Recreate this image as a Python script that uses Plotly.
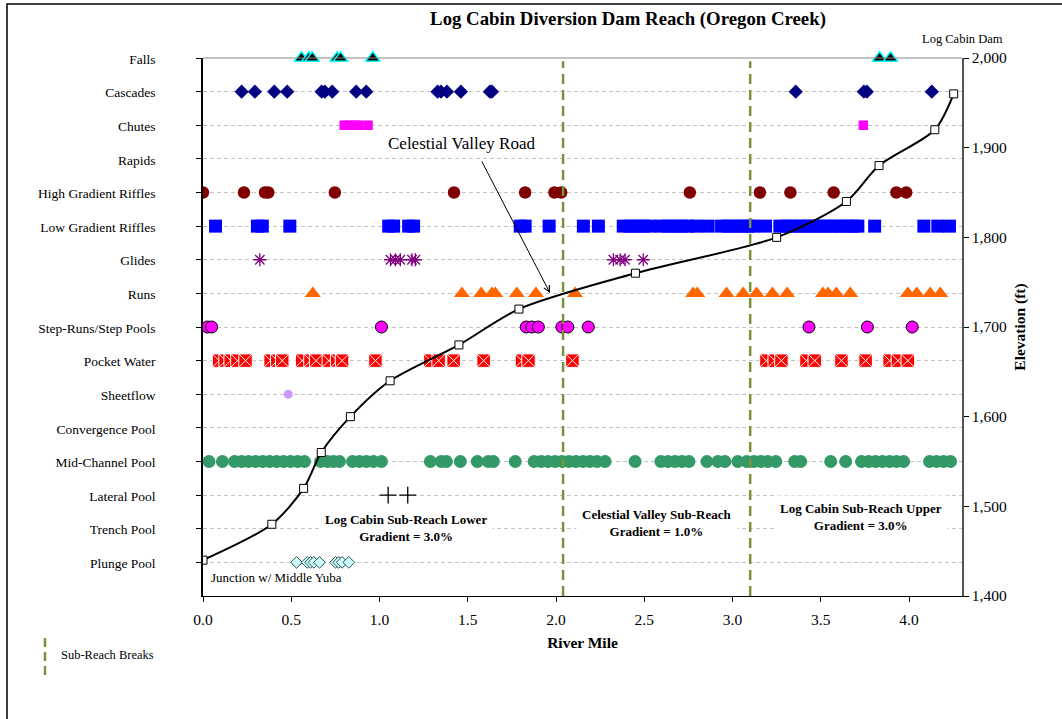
import plotly.graph_objects as go

FONT = "Liberation Serif, Times New Roman, serif"

# ---------------- data ----------------
CATEGORIES = ["Plunge Pool", "Trench Pool", "Lateral Pool", "Mid-Channel Pool",
              "Convergence Pool", "Sheetflow", "Pocket Water", "Step-Runs/Step Pools",
              "Runs", "Glides", "Low Gradient Riffles", "High Gradient Riffles",
              "Rapids", "Chutes", "Cascades", "Falls"]

falls = [0.558, 0.60, 0.619, 0.76, 0.779, 0.962, 3.833, 3.895]
cascades = [0.219, 0.294, 0.404, 0.477, 0.672, 0.69, 0.732, 0.868, 0.925, 1.329,
            1.348, 1.382, 1.461, 1.625, 1.637, 3.358, 3.744, 3.761, 4.129]
chutes = [0.80, 0.83, 0.86, 0.883, 0.935, 3.741]
rapids = []
high_riffles = [0.0, 0.232, 0.351, 0.37, 0.747, 1.422, 1.825, 1.991, 2.029, 2.758,
                3.155, 3.328, 3.573, 3.928, 3.984]
low_riffles = [0.071, 0.308, 0.336, 0.492, 1.052, 1.08, 1.165, 1.193, 1.797, 1.825,
               1.961, 2.155, 2.240, 2.381, 2.419, 2.457, 2.494, 2.532, 2.598, 2.636,
               2.674, 2.712, 2.749, 2.796, 2.862, 2.938, 2.975, 3.013, 3.051, 3.088,
               3.117, 3.187, 3.268, 3.305, 3.343, 3.381, 3.419, 3.456, 3.494, 3.532,
               3.569, 3.607, 3.645, 3.682, 3.710, 3.805, 4.084, 4.163, 4.229]
glides = [0.322, 1.062, 1.09, 1.118, 1.184, 1.203, 2.325, 2.363, 2.391, 2.494]
runs = [0.622, 1.467, 1.576, 1.637, 1.656, 1.778, 1.886, 2.108, 2.777, 2.80, 2.966,
        3.06, 3.136, 3.226, 3.309, 3.512, 3.541, 3.588, 3.667, 3.993, 4.044, 4.12, 4.177]
step_runs = [0.025, 0.049, 1.011, 1.831, 1.863, 1.90, 2.033, 2.067, 2.183, 3.433,
             3.764, 4.018]
pocket_water = [0.091, 0.128, 0.157, 0.195, 0.241, 0.383, 0.421, 0.449, 0.562, 0.609,
                0.641, 0.713, 0.760, 0.788, 0.977, 1.288, 1.335, 1.42, 1.59, 1.807,
                1.844, 2.093, 3.192, 3.239, 3.277, 3.419, 3.466, 3.617, 3.754, 3.89,
                3.937, 3.993]
sheetflow = [0.483]
convergence_pool = []
mid_channel_pool = [0.034, 0.110, 0.179, 0.219, 0.258, 0.298, 0.338, 0.377, 0.417,
                    0.456, 0.496, 0.536, 0.575, 0.666, 0.705, 0.739, 0.773, 0.847,
                    0.886, 0.926, 0.966, 1.011, 1.288, 1.350, 1.379, 1.458, 1.554,
                    1.616, 1.645, 1.769, 1.876, 1.916, 1.955, 1.995, 2.034, 2.074,
                    2.113, 2.153, 2.193, 2.232, 2.278, 2.448, 2.594, 2.634, 2.674,
                    2.713, 2.753, 2.855, 2.917, 2.957, 3.030, 3.081, 3.121, 3.160,
                    3.200, 3.245, 3.352, 3.386, 3.556, 3.641, 3.731, 3.771, 3.810,
                    3.850, 3.890, 3.929, 3.969, 4.116, 4.156, 4.196, 4.235]
lateral_pool = [1.049, 1.16]
trench_pool = []
plunge_pool = [0.53, 0.59, 0.609, 0.628, 0.66, 0.751, 0.769, 0.788, 0.826]

profile_mile = [0, 0.39, 0.57, 0.67, 0.835, 1.06, 1.45, 1.79, 2.45, 3.25, 3.645,
                3.83, 4.146, 4.253]
profile_elev = [1440, 1480, 1520, 1560, 1600, 1640, 1680, 1720, 1760, 1800, 1840,
                1880, 1920, 1960]

sub_reach_breaks = [2.04, 3.10]

x_ticks = [0.0, 0.5, 1.0, 1.5, 2.0, 2.5, 3.0, 3.5, 4.0]
elev_ticks = [1400, 1500, 1600, 1700, 1800, 1900, 2000]

# ---------------- figure ----------------
fig = go.Figure()

def row(name):
    return CATEGORIES.index(name) + 1

def add_row(xs, name, symbol, color, size, line_color=None, line_width=0, cliponaxis=True):
    fig.add_trace(go.Scatter(
        x=xs, y=[row(name)] * len(xs), mode="markers", name=name,
        cliponaxis=cliponaxis,
        marker=dict(symbol=symbol, color=color, size=size,
                    line=dict(color=line_color or color, width=line_width)),
        showlegend=False, hoverinfo="x+name"))

add_row(mid_channel_pool, "Mid-Channel Pool", "circle", "#339966", 13)
add_row(low_riffles, "Low Gradient Riffles", "square", "#0000FF", 13)
add_row(high_riffles, "High Gradient Riffles", "circle", "#800000", 12.5)
add_row(cascades, "Cascades", "diamond", "#000080", 11)
add_row(chutes, "Chutes", "square", "#FF00FF", 9.5)
add_row(rapids, "Rapids", "circle", "#000000", 10)
add_row(glides, "Glides", "asterisk-open", "#800080", 11, "#800080", 1.3)
add_row(runs, "Runs", "triangle-up", "#FF6600", 14)
add_row(step_runs, "Step-Runs/Step Pools", "circle", "#FF00FF", 12, "#000000", 1)
add_row(pocket_water, "Pocket Water", "square-x", "#FF0000", 13.5, "#FFFFFF", 1)
add_row(sheetflow, "Sheetflow", "circle", "#CC99FF", 9)
add_row(convergence_pool, "Convergence Pool", "circle", "#000000", 10)
add_row(lateral_pool, "Lateral Pool", "cross-thin-open", "#000000", 12, "#000000", 1.3)
add_row(trench_pool, "Trench Pool", "circle", "#000000", 10)
add_row(plunge_pool, "Plunge Pool", "diamond", "#CCFFFF", 9, "#2F4F4F", 1)
add_row(falls, "Falls", "triangle-up", "#000000", 12.5, "#00FFFF", 1.5, cliponaxis=False)

for b in sub_reach_breaks:
    fig.add_trace(go.Scatter(
        x=[b, b], y=[0, 15.9], mode="lines", showlegend=False, hoverinfo="skip",
        line=dict(color="#77933C", width=2.5, dash="10px,6px")))

fig.add_trace(go.Scatter(
    x=profile_mile, y=profile_elev, yaxis="y2", mode="lines+markers",
    line=dict(color="#000000", width=2, shape="spline", smoothing=0.8),
    marker=dict(symbol="square", size=8, color="#FFFFFF",
                line=dict(color="#000000", width=1)),
    showlegend=False, name="Elevation"))

fig.update_layout(
    width=1062, height=719,
    margin=dict(l=203, r=100, t=58, b=123),
    paper_bgcolor="white", plot_bgcolor="white",
    font=dict(family=FONT, color="#000000", size=14),
    title=dict(text="<b>Log Cabin Diversion Dam Reach (Oregon Creek)</b>",
               x=628 / 1062, xref="container", xanchor="center",
               y=1 - 18 / 719, yref="container", yanchor="middle",
               font=dict(family=FONT, size=18.8, color="#000000")),
    xaxis=dict(range=[0, 4.3], tickvals=x_ticks, tickformat=".1f",
               showgrid=False, zeroline=False, showline=True, linecolor="#000000",
               linewidth=1, ticks="outside", ticklen=5, tickcolor="#000000",
               ticklabelstandoff=4,
               tickfont=dict(family=FONT, size=15.5),
               title=dict(text="<b>River Mile</b>", standoff=10,
                          font=dict(family=FONT, size=15.5))),
    yaxis=dict(range=[0, 16], tickvals=list(range(1, len(CATEGORIES) + 1)),
               ticktext=CATEGORIES, showgrid=True, gridcolor="#C4C4C4",
               griddash="4px,3px", gridwidth=1, zeroline=False, showline=True,
               linecolor="#000000", linewidth=1.5, ticks="outside", ticklen=5,
               tickcolor="#000000", ticklabelstandoff=38, ticklabelshift=1,
               tickfont=dict(family=FONT, size=13.5)),
    yaxis2=dict(range=[1400, 2000], tickvals=elev_ticks, tickformat=",",
                overlaying="y", side="right", showgrid=False, zeroline=False,
                showline=True, linecolor="#555555", linewidth=1.5,
                ticks="outside", ticklen=5, tickcolor="#000000",
                tickfont=dict(family=FONT, size=15.5),
                title=dict(text="<b>Elevation (ft)</b>", standoff=8,
                           font=dict(family=FONT, size=15.5))),
)

def px_x(p):
    return (p - 203) / 759

def px_y(p):
    return (596 - p) / 538

shapes = [
    # plot top line
    dict(type="line", xref="paper", yref="paper", x0=0, x1=1, y0=1, y1=1,
         line=dict(color="#888888", width=1)),
    # chart frame
    dict(type="rect", xref="paper", yref="paper", x0=px_x(7), x1=px_x(1070),
         y0=px_y(730), y1=px_y(4), line=dict(color="#000000", width=1.5)),
    # legend swatch
    dict(type="line", xref="paper", yref="paper", x0=px_x(45), x1=px_x(45),
         y0=px_y(675), y1=px_y(635),
         line=dict(color="#77933C", width=2.5, dash="9px,5px")),
]
fig.update_layout(shapes=shapes)

annotations = [
    dict(text="Sub-Reach Breaks", xref="paper", yref="paper", x=px_x(59), y=px_y(655),
         xanchor="left", yanchor="middle", showarrow=False,
         font=dict(family=FONT, size=12.5)),
    dict(text="Log Cabin Dam", xref="paper", yref="paper", x=px_x(962), y=px_y(39),
         xanchor="center", yanchor="middle", showarrow=False,
         font=dict(family=FONT, size=12.5)),
    dict(text="<b>Log Cabin Sub-Reach Lower<br>Gradient = 3.0%</b>", xref="x", yref="y",
         x=1.15, y=2.03, showarrow=False, bgcolor="white", borderpad=5,
         font=dict(family=FONT, size=13)),
    dict(text="<b>Celestial Valley Sub-Reach<br>Gradient = 1.0%</b>", xref="x", yref="y",
         x=2.57, y=2.18, showarrow=False, bgcolor="white", borderpad=5,
         font=dict(family=FONT, size=13)),
    dict(text="<b>Log Cabin Sub-Reach Upper<br>Gradient = 3.0%</b>", xref="x", yref="y",
         x=3.726, y=2.34, showarrow=False, bgcolor="white", borderpad=5,
         font=dict(family=FONT, size=13)),
    dict(text="Junction w/ Middle Yuba", xref="x", yref="y", x=0.034, y=0.565,
         xanchor="left", yanchor="middle", showarrow=False,
         font=dict(family=FONT, size=13)),
    dict(text="Celestial Valley Road", xref="x", yref="y", x=1.466, y=13.46,
         showarrow=False, font=dict(family=FONT, size=17)),
    dict(text="", xref="x", yref="y", x=1.966, y=9.01, axref="x", ayref="y",
         ax=1.575, ay=12.97, showarrow=True, arrowhead=5, arrowsize=1.2,
         arrowwidth=1, arrowcolor="#000000"),
]
fig.update_layout(annotations=annotations)

fig.write_html("out.html", config={"displayModeBar": False},
               post_script="document.body.style.margin='0px';document.body.style.padding='0px';")
